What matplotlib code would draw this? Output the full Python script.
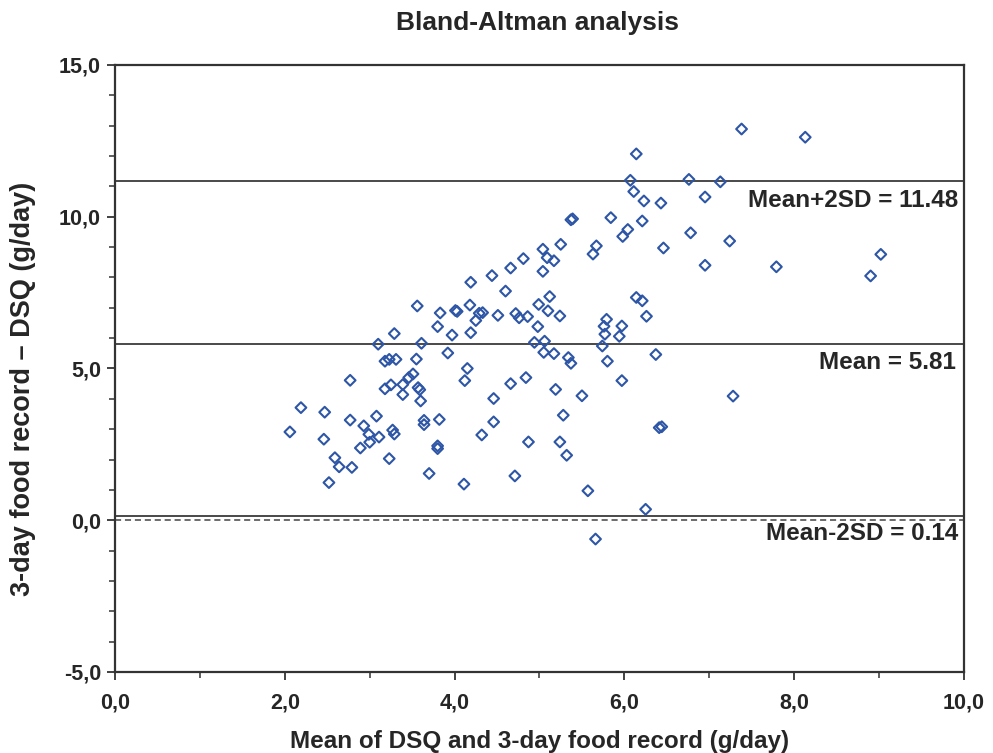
import matplotlib
matplotlib.use("Agg")
import matplotlib.pyplot as plt
from matplotlib.ticker import MultipleLocator, FuncFormatter

plt.rcParams['font.family'] = ['Liberation Sans', 'DejaVu Sans']

# mean of the two methods (g/day)
mean_vals = [
    2.06, 2.19, 2.47, 2.46, 2.52, 2.59, 2.64, 2.79, 2.77, 2.77,
    2.93, 2.89, 2.99, 3.00, 3.08, 3.11, 3.10, 3.18, 3.23, 3.31,
    3.29, 3.25, 3.18, 3.27, 3.29, 3.23, 3.39, 3.39, 3.46, 3.51,
    3.55, 3.56, 3.57, 3.59, 3.60, 3.61, 3.64, 3.64, 3.70, 3.83,
    3.80, 3.82, 3.80, 3.80, 3.92, 3.97, 4.01, 4.03, 4.11, 4.12,
    4.15, 4.18, 4.19, 4.19, 4.25, 4.29, 4.33, 4.32, 4.44, 4.46,
    4.46, 4.51, 4.60, 4.66, 4.66, 4.71, 4.72, 4.76, 4.81, 4.84,
    4.86, 4.87, 4.94, 4.98, 4.99, 5.04, 5.04, 5.06, 5.05, 5.09,
    5.10, 5.12, 5.17, 5.17, 5.19, 5.25, 5.24, 5.24, 5.28, 5.32,
    5.34, 5.37, 5.37, 5.39, 5.50, 5.57, 5.63, 5.67, 5.66, 5.74,
    5.77, 5.76, 5.79, 5.80, 5.84, 5.94, 5.97, 5.97, 5.98, 6.04,
    6.07, 6.11, 6.14, 6.14, 6.21, 6.21, 6.23, 6.25, 6.26, 6.37,
    6.41, 6.44, 6.43, 6.46, 6.76, 6.78, 6.95, 6.95, 7.13, 7.24,
    7.28, 7.38, 7.79, 8.13, 8.90, 9.02,
]
# difference: 3-day food record - DSQ (g/day)
diff_vals = [
    2.91, 3.71, 3.56, 2.67, 1.24, 2.06, 1.76, 1.74, 3.30, 4.61,
    3.11, 2.38, 2.83, 2.57, 3.43, 2.74, 5.80, 5.24, 5.30, 5.30,
    6.15, 4.46, 4.33, 2.97, 2.84, 2.03, 4.47, 4.14, 4.70, 4.82,
    5.31, 7.06, 4.37, 4.30, 3.93, 5.83, 3.29, 3.15, 1.54, 6.83,
    6.38, 3.32, 2.45, 2.36, 5.51, 6.10, 6.91, 6.88, 1.19, 4.60,
    5.00, 7.09, 6.18, 7.84, 6.58, 6.82, 6.84, 2.81, 8.06, 4.01,
    3.24, 6.75, 7.55, 8.31, 4.50, 1.46, 6.81, 6.67, 8.62, 4.70,
    6.71, 2.58, 5.86, 6.38, 7.11, 8.93, 8.20, 5.90, 5.53, 8.65,
    6.90, 7.37, 8.55, 5.49, 4.31, 9.09, 6.73, 2.58, 3.46, 2.14,
    5.36, 5.17, 9.90, 9.93, 4.10, 0.97, 8.77, 9.04, -0.62, 5.74,
    6.13, 6.39, 6.62, 5.24, 9.97, 6.06, 6.40, 4.60, 9.35, 9.58,
    11.20, 10.83, 12.07, 7.34, 7.23, 9.86, 10.52, 0.36, 6.72, 5.46,
    3.05, 3.08, 10.45, 8.97, 11.23, 9.47, 8.40, 10.65, 11.15, 9.20,
    4.09, 12.89, 8.35, 12.62, 8.05, 8.76,
]

# reference lines as drawn, and their labels
line_levels = [11.17, 5.80, 0.13]
line_labels = ['Mean+2SD = 11.48', 'Mean = 5.81', 'Mean-2SD = 0.14']

fig = plt.figure(figsize=(9.93, 7.53), dpi=100)
ax = fig.add_axes([0.1158, 0.1076, 0.8550, 0.8061])

ax.scatter(mean_vals, diff_vals, marker='D', s=30, facecolors='none',
           edgecolors='#2e56a6', linewidths=1.5, zorder=3)

# limits of agreement and mean
for lvl in line_levels:
    ax.axhline(lvl, color='#3a3a3a', lw=1.3, zorder=2)
ax.axhline(0, color='#444444', lw=1.1, ls=(0, (4, 2.5)), zorder=2)

# labels sit just below each line, right aligned
label_y = [10.55, 5.2, -0.45]
label_x = [9.93, 9.9, 9.93]
for lx, ly, txt in zip(label_x, label_y, line_labels):
    ax.text(lx, ly, txt, ha='right', va='center', fontsize=17.5,
            fontweight='bold', color='#262626')

ax.set_xlim(0, 10)
ax.set_ylim(-5, 15)
ax.xaxis.set_major_locator(MultipleLocator(2))
ax.xaxis.set_minor_locator(MultipleLocator(1))
ax.yaxis.set_major_locator(MultipleLocator(5))
ax.yaxis.set_minor_locator(MultipleLocator(1))
comma = FuncFormatter(lambda v, p: f'{v:.1f}'.replace('.', ','))
ax.xaxis.set_major_formatter(comma)
ax.yaxis.set_major_formatter(comma)

ax.tick_params(which='major', direction='out', length=6, width=1.3,
               color='#333333', labelsize=15.5)
ax.tick_params(axis='y', which='major', pad=4)
ax.tick_params(axis='x', which='major', pad=9)
ax.tick_params(which='minor', direction='out', length=4, width=1.1,
               color='#333333')
for lab in ax.get_xticklabels() + ax.get_yticklabels():
    lab.set_fontweight('bold')
    lab.set_color('#262626')

for sp in ax.spines.values():
    sp.set_linewidth(1.6)
    sp.set_color('#333333')

ax.set_xlabel('Mean of DSQ and 3-day food record (g/day)', fontsize=17.5,
              fontweight='bold', color='#262626', labelpad=12)
ax.set_ylabel('3-day food record \u2013 DSQ (g/day)', fontsize=19.5,
              fontweight='bold', color='#262626')
ax.yaxis.set_label_coords(-0.093, 0.466)
fig.text(0.541, 0.970, 'Bland-Altman analysis', ha='center', va='center',
         fontsize=19, fontweight='bold', color='#262626')

fig.savefig('out.png', dpi=100)
